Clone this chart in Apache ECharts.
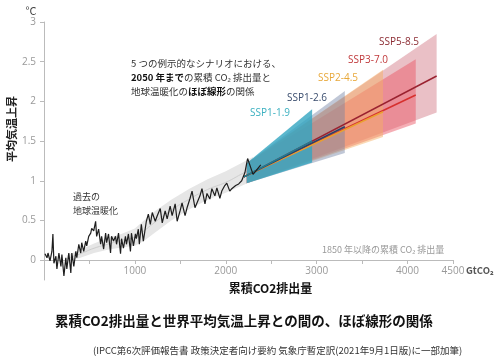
<!DOCTYPE html>
<html><head><meta charset="utf-8">
<script src="https://cdn.jsdelivr.net/npm/echarts@6/dist/echarts.min.js"></script>
<style>html,body{margin:0;padding:0;background:#fff}#c{width:499px;height:362px}</style>
</head><body><div id="c"></div>
<script>
// ---- data ----
const yTicks = [0, 0.5, 1, 1.5, 2, 2.5, 3];
const xLabels = [1000, 2000, 3000, 4000, 4500];

const histX = [11,33,44,66,87,98,109,131,142,164,186,197,219,240,251,273,295,306,328,350,361,383,404,415,437,459,470,492,514,525,547,568,579,601,623,634,656,678,689,710,732,743,765,787,798,820,842,853,874,896,907,929,951,962,984,1006,1016,1038,1049,1071,1093,1126,1148,1170,1191,1224,1246,1279,1301,1333,1355,1388,1410,1443,1465,1497,1519,1552,1574,1607,1629,1661,1683,1716,1738,1771,1793,1825,1847,1880,1902,1935,1956,1989,2011,2044,2066,2109,2142,2175,2210,2240,2300,2385];
const histY = [0.08,0.03,0.09,-0.01,0.11,0.33,-0.04,0.05,-0.11,0.09,-0.08,0.07,-0.2,0.03,-0.11,0.09,-0.16,0.09,-0.08,0.11,0.03,0.2,0.09,0.22,0.11,0.24,0.18,0.3,0.34,0.4,0.37,0.49,0.3,0.39,0.2,0.3,0.14,0.34,0.22,0.33,0.09,0.3,0.24,0.3,0.2,0.34,0.08,0.27,0.15,0.3,0.2,0.33,0.11,0.34,0.18,0.33,0.27,0.39,0.2,0.45,0.24,0.49,0.58,0.45,0.6,0.49,0.56,0.65,0.47,0.62,0.52,0.68,0.56,0.71,0.49,0.62,0.72,0.56,0.66,0.78,0.87,0.66,0.72,0.81,0.9,0.71,0.84,0.77,0.9,0.81,0.91,0.78,0.87,0.94,0.97,0.87,0.9,0.94,0.96,1.0,1.1,1.28,1.08,1.2];

const bandX   = [250, 400, 550, 700, 850, 1000, 1100, 1200, 1400, 1600, 1800, 2000, 2200, 2300];
const bandLo  = [-0.02, 0.03, 0.09, 0.13, 0.16, 0.18, 0.24, 0.33, 0.5, 0.64, 0.76, 0.85, 0.95, 1.0];
const bandHi  = [0.06, 0.13, 0.21, 0.28, 0.33, 0.4, 0.5, 0.6, 0.76, 0.9, 1.02, 1.12, 1.24, 1.3];
const bandMid = [0.02, 0.08, 0.15, 0.2, 0.25, 0.29, 0.37, 0.46, 0.63, 0.77, 0.89, 0.98, 1.1, 1.15];

const scenarios = ['SSP5-8.5', 'SSP3-7.0', 'SSP2-4.5', 'SSP1-2.6', 'SSP1-1.9'];
const fanStartX = 2230, fanStartLo = 0.97, fanStartHi = 1.22;
const fanEndX  = [4320, 4090, 3730, 3310, 2950];
const fanEndLo = [1.86, 1.72, 1.55, 1.35, 1.23];
const fanEndHi = [2.85, 2.53, 2.4, 2.13, 1.9];
const lineStartX = 2200, lineStartY = 1.05;
const lineEndY = [2.32, 2.08, 1.87, 1.68, 1.5];

// ---- styles ----
const FONT = '"Noto Sans CJK JP", "Noto Sans", sans-serif';
const fanFill = ['rgba(200,90,105,0.38)', 'rgba(235,85,100,0.48)', 'rgba(245,175,100,0.48)', 'rgba(115,130,165,0.45)', 'rgba(50,165,192,0.80)'];
const lineCol = ['#9a2230', '#d6302e', '#eaa030', '#2e4068', '#1c7f96'];
const labelCol = ['#8c2c33', '#c0393b', '#e8a83a', '#3a4d6e', '#3bb0c0'];

const chart = echarts.init(document.getElementById('c'));

const series = [];
series.push({
  type: 'custom', z: 1, silent: true,
  data: bandX.map((x, i) => [x, bandLo[i], bandHi[i]]),
  renderItem: function (params, api) {
    if (params.dataIndex !== 0) return null;
    const top = bandX.map((x, i) => api.coord([x, bandHi[i]]));
    const bot = bandX.map((x, i) => api.coord([x, bandLo[i]])).reverse();
    return { type: 'polygon', shape: { points: top.concat(bot) }, style: { fill: '#e6e6e6' } };
  }
});
series.push({
  type: 'line', z: 2, showSymbol: false, smooth: true, silent: true,
  data: bandX.map((x, i) => [x, bandMid[i]]),
  lineStyle: { color: '#cdcdcd', width: 1 }
});
series.push({
  type: 'custom', z: 3, silent: true,
  data: scenarios.map((s, i) => [fanStartX, fanStartLo, fanStartHi, fanEndX[i], fanEndLo[i], fanEndHi[i]]),
  renderItem: function (params, api) {
    const pts = [
      api.coord([api.value(0), api.value(1)]),
      api.coord([api.value(3), api.value(4)]),
      api.coord([api.value(3), api.value(5)]),
      api.coord([api.value(0), api.value(2)])
    ];
    return { type: 'polygon', shape: { points: pts }, style: { fill: fanFill[params.dataIndex] } };
  }
});
scenarios.forEach((s, i) => {
  series.push({
    type: 'line', name: s, z: 4, showSymbol: false, silent: true,
    data: [[lineStartX, lineStartY], [fanEndX[i], lineEndY[i]]],
    lineStyle: { color: lineCol[i], width: 1.5 }
  });
});
series.push({
  type: 'line', z: 5, showSymbol: false, silent: true,
  data: histX.map((x, i) => [x, histY[i]]),
  lineStyle: { color: '#1e1e1e', width: 1.2 }
});

const ssLabelPos = [[379, 42], [348, 60], [318, 78], [287, 98], [250, 113]];

const graphic = [
  { type: 'text', x: 31, y: 11, style: { text: '°C', font: '11px ' + FONT, fill: '#444', textAlign: 'center', textVerticalAlign: 'middle' } },
  { type: 'text', x: 12, y: 129, rotation: Math.PI / 2, style: { text: '平均気温上昇', font: 'bold 11px ' + FONT, fill: '#222', textAlign: 'center', textVerticalAlign: 'middle' } },
  { type: 'text', x: 131, y: 63, style: { text: '5 つの例示的なシナリオにおける、', font: '9.5px ' + FONT, fill: '#333', textVerticalAlign: 'middle' } },
  { type: 'text', x: 131, y: 77, style: { text: '{b|2050 年まで}の累積 CO₂ 排出量と', font: '9.5px ' + FONT, fill: '#333', textVerticalAlign: 'middle', rich: { b: { fontWeight: 'bold', fontSize: 9.5, fontFamily: FONT, fill: '#111' } } } },
  { type: 'text', x: 131, y: 91, style: { text: '地球温暖化の{b|ほぼ線形}の関係', font: '9.5px ' + FONT, fill: '#333', textVerticalAlign: 'middle', rich: { b: { fontWeight: 'bold', fontSize: 9.5, fontFamily: FONT, fill: '#111' } } } },
  { type: 'text', x: 73, y: 197, style: { text: '過去の', font: '9px ' + FONT, fill: '#333', textVerticalAlign: 'middle' } },
  { type: 'text', x: 73, y: 211, style: { text: '地球温暖化', font: '9px ' + FONT, fill: '#333', textVerticalAlign: 'middle' } },
  { type: 'text', x: 322, y: 250, style: { text: '1850 年以降の累積 CO₂ 排出量', font: '9px ' + FONT, fill: '#999', textVerticalAlign: 'middle' } },
  { type: 'text', x: 466, y: 270, style: { text: 'GtCO₂', font: 'bold 9.5px ' + FONT, fill: '#555', textVerticalAlign: 'middle' } }
];
scenarios.forEach((s, i) => {
  graphic.push({ type: 'text', x: ssLabelPos[i][0], y: ssLabelPos[i][1], style: { text: s, font: '10px "Open Sans", sans-serif', fill: labelCol[i], textVerticalAlign: 'middle' } });
});

chart.setOption({
  animation: false,
  backgroundColor: '#fff',
  title: [
    { text: '累積CO2排出量と世界平均気温上昇との間の、ほぼ線形の関係', left: 50, top: 309, textStyle: { fontSize: 13.5, fontWeight: 'bold', color: '#111', fontFamily: FONT } },
    { text: '(IPCC第6次評価報告書 政策決定者向け要約 気象庁暫定訳(2021年9月1日版)に一部加筆)', left: 88, top: 341, textStyle: { fontSize: 9.5, fontWeight: 'normal', color: '#333', fontFamily: FONT } }
  ],
  grid: { left: 44, right: 46, top: 22, bottom: 82 },
  xAxis: {
    type: 'value', min: 0, max: 4500, interval: 500, offset: -20,
    name: '累積CO2排出量', nameLocation: 'middle', nameGap: 22,
    nameTextStyle: { fontSize: 12, fontWeight: 'bold', color: '#111', fontFamily: FONT, padding: [0, 0, 0, 44] },
    axisLine: { show: true, onZero: false, lineStyle: { color: '#bbb', width: 1 } },
    axisTick: { show: true, length: 4, lineStyle: { color: '#bbb' } },
    axisLabel: { customValues: xLabels, formatter: v => String(v), color: '#999', fontSize: 10, margin: 6, fontFamily: '"Open Sans", sans-serif' },
    splitLine: { show: false }
  },
  yAxis: {
    type: 'value', min: -0.25, max: 3,
    axisLine: { show: true, onZero: false, lineStyle: { color: '#bbb', width: 1 } },
    axisTick: { show: true, length: 4, customValues: yTicks, lineStyle: { color: '#bbb' } },
    axisLabel: { customValues: yTicks, color: '#999', fontSize: 10, margin: 8, fontFamily: '"Open Sans", sans-serif' },
    splitLine: { show: false }
  },
  graphic: graphic,
  series: series
});
</script>
</body></html>
